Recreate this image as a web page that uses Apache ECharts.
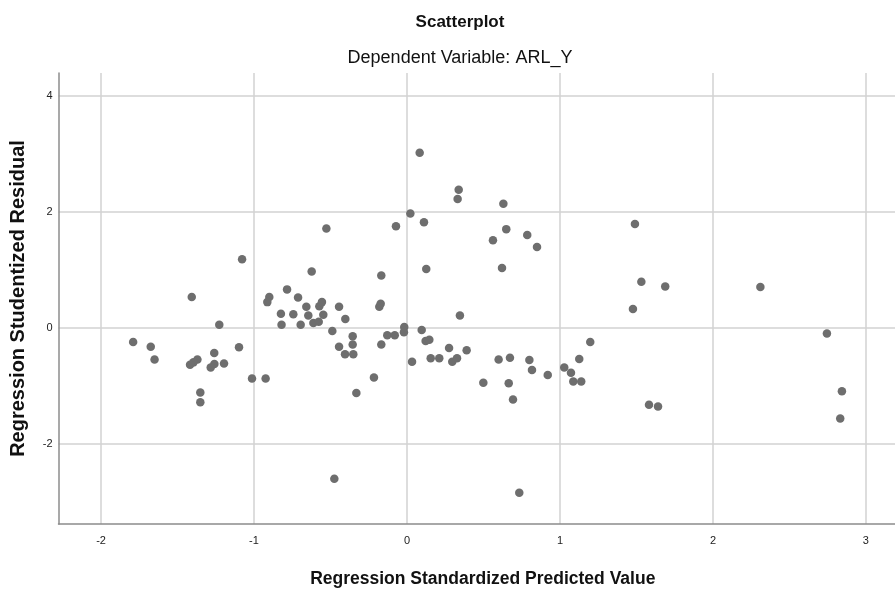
<!DOCTYPE html>
<html>
<head>
<meta charset="utf-8">
<script src="https://cdn.jsdelivr.net/npm/echarts@6/dist/echarts.min.js"></script>
<style>html,body{margin:0;padding:0;background:#fff}#c{width:895px;height:593px}</style>
</head>
<body>
<div id="c"></div>
<script>
var predictedValues = [
  -1.078,-1.407,-0.900,-0.913,-0.784,-0.824,-0.820,-1.227,-1.790,-1.675,
  -1.650,-1.098,-1.260,-1.370,-1.396,-1.418,-1.259,-1.283,-1.196,-1.013,
  -0.924,-1.351,-1.351, 0.022,-0.527,-0.072,-0.623,-0.168,-0.712,-0.658,
  -0.573,-0.556,-0.444,-0.181,-0.172,-0.743,-0.645,-0.547,-0.403,-0.695,
  -0.612,-0.577,-0.488,-0.355,-0.355,-0.351,-0.444,-0.405,-0.129,-0.080,
  -0.018,-0.020,-0.168, 0.033,-0.216,-0.331, 0.083, 0.338, 0.331, 0.630,
   0.111, 0.649, 0.562, 0.786, 0.850, 0.126, 0.621, 0.346, 0.096, 0.122,
   0.146, 0.155, 0.211, 0.275, 0.296, 0.327, 0.390, 0.499, 0.599, 0.673,
   0.665, 0.693, 0.800, 0.817, 0.920, 1.490, 1.532, 1.688, 1.477, 1.198,
   1.126, 1.028, 1.072, 1.087, 1.139, 1.582, 1.641, 2.310, 2.745, 2.843,
   2.832,-0.475, 0.734
];
var studentizedResiduals = [
   1.18, 0.53, 0.53, 0.44, 0.66, 0.24, 0.05, 0.05,-0.25,-0.33,
  -0.55,-0.34,-0.44,-0.55,-0.60,-0.64,-0.63,-0.69,-0.62,-0.88,
  -0.88,-1.12,-1.29, 1.97, 1.71, 1.75, 0.97, 0.90, 0.52, 0.36,
   0.37, 0.44, 0.36, 0.36, 0.41, 0.23, 0.21, 0.22, 0.15, 0.05,
   0.08, 0.10,-0.06,-0.15,-0.29,-0.46,-0.33,-0.46,-0.13,-0.13,
   0.01,-0.08,-0.29,-0.59,-0.86,-1.13, 3.02, 2.38, 2.22, 2.14,
   1.82, 1.70, 1.51, 1.60, 1.39, 1.01, 1.03, 0.21,-0.04,-0.23,
  -0.21,-0.53,-0.53,-0.35,-0.59,-0.53,-0.39,-0.95,-0.55,-0.52,
  -0.96,-1.24,-0.56,-0.73,-0.82, 1.79, 0.79, 0.71, 0.32,-0.25,
  -0.54,-0.69,-0.78,-0.93,-0.93,-1.33,-1.36, 0.70,-0.10,-1.10,
  -1.57,-2.61,-2.85
];
var xTickValues = [-2, -1, 0, 1, 2, 3];
var yTickValues = [-2, 0, 2, 4];

var points = predictedValues.map(function (x, i) { return [x, studentizedResiduals[i]]; });

var font = '"Liberation Sans", Arial, sans-serif';
var chart = echarts.init(document.getElementById('c'), null, {renderer: 'canvas'});
chart.setOption({
  animation: false,
  backgroundColor: '#ffffff',
  title: [
    {text: 'Scatterplot', left: 455, top: 9, textAlign: 'center',
     textStyle: {fontFamily: font, fontSize: 17, fontWeight: 'bold', color: '#111'}},
    {text: 'Dependent Variable: ARL_Y', left: 455, top: 44, textAlign: 'center',
     textStyle: {fontFamily: font, fontSize: 18, fontWeight: 'normal', color: '#111'}}
  ],
  grid: {left: 58.5, right: 0, top: 73, bottom: 61, containLabel: false},
  xAxis: {
    type: 'value', min: -2.278, max: 3.19,
    name: 'Regression Standardized Predicted Value',
    nameLocation: 'middle', nameGap: 46,
    nameTextStyle: {fontFamily: font, fontSize: 17.5, fontWeight: 'bold', color: '#111', padding: [0, 0, 0, 12]},
    axisLine: {show: true, onZero: false, lineStyle: {color: '#8c8c8c', width: 1.5}},
    axisTick: {show: false, customValues: xTickValues},
    axisLabel: {customValues: xTickValues, fontFamily: font, fontSize: 11, color: '#222', margin: 11},
    splitLine: {show: true, lineStyle: {color: '#d2d2d2', width: 1.5}}
  },
  yAxis: {
    type: 'value', min: -3.39, max: 4.395,
    name: 'Regression Studentized Residual',
    nameLocation: 'middle', nameGap: 30,
    nameTextStyle: {fontFamily: font, fontSize: 20, fontWeight: 'bold', color: '#111'},
    axisLine: {show: true, onZero: false, lineStyle: {color: '#8c8c8c', width: 1.5}},
    axisTick: {show: false, customValues: yTickValues},
    axisLabel: {customValues: yTickValues, fontFamily: font, fontSize: 11, color: '#222', margin: 6},
    splitLine: {show: true, lineStyle: {color: '#d2d2d2', width: 1.5}}
  },
  series: [{
    type: 'scatter',
    data: points,
    symbol: 'circle',
    symbolSize: 8.5,
    itemStyle: {color: '#6e6e6e', opacity: 1},
    emphasis: {disabled: true}
  }]
});
</script>
</body>
</html>
